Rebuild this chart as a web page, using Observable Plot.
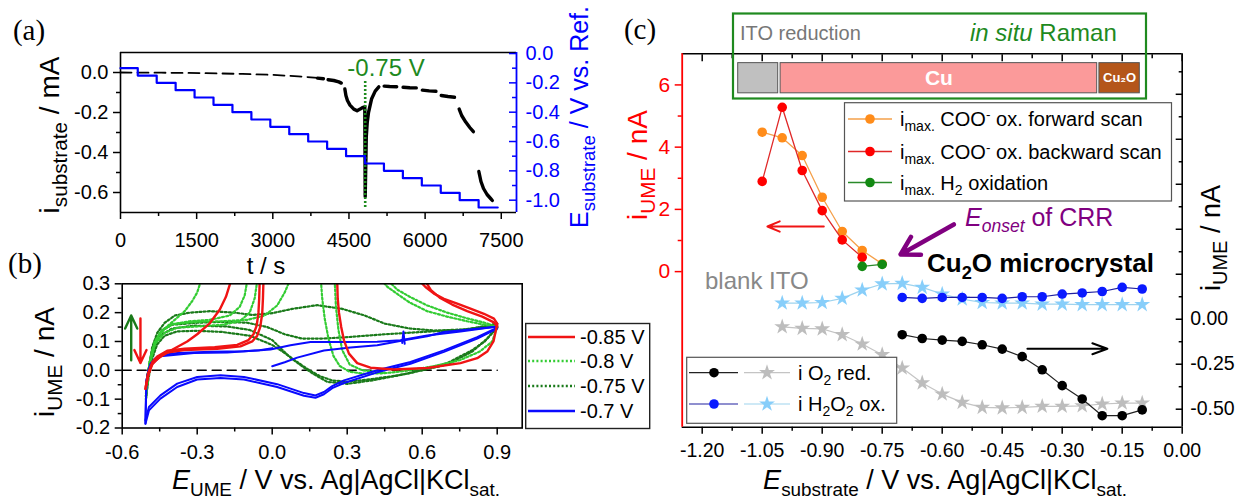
<!DOCTYPE html>
<html>
<head>
<meta charset="utf-8">
<script src="https://cdn.jsdelivr.net/npm/d3@7"></script>
<script src="https://cdn.jsdelivr.net/npm/@observablehq/plot@0.6"></script>
<style>
html,body{margin:0;padding:0;background:#fff;}
#fig{position:relative;width:1238px;height:501px;overflow:hidden;background:#fff;font-family:"Liberation Sans",Arial,sans-serif;color:#000;}
.lbl{position:absolute;white-space:nowrap;line-height:1;}
.lbl sub{font-size:70%;vertical-align:-0.38em;line-height:0;}
.lbl sup{font-size:68%;vertical-align:0.55em;line-height:0;}
.big sub{font-size:74%;}
#fig > svg{position:absolute;overflow:visible;}
</style>
</head>
<body>
<div id="fig"></div>
<script>
// ================= DATA =================
// ---- Panel (a): potential steps (blue) ----
const stepTimes = [0, 340, 713, 1086, 1459, 1832, 2205, 2578, 2951, 3324, 3697, 4070, 4443, 4816, 5189, 5562, 5935, 6308, 6681, 7054, 7430];
const stepPotentials = [-0.10, -0.15, -0.20, -0.25, -0.30, -0.35, -0.40, -0.45, -0.50, -0.55, -0.60, -0.65, -0.70, -0.75, -0.80, -0.85, -0.90, -0.95, -1.00, -1.05, -1.05];
// ---- Panel (a): substrate current (black) ----
const currentDashTime = [0, 800, 1600, 2400, 3000, 3500, 3880];
const currentDashValue = [0.000, -0.001, -0.003, -0.007, -0.012, -0.019, -0.027];
const currentBlocks = [
  [[3880, -0.028], [3997, -0.031]],
  [[4089, -0.036], [4200, -0.040], [4300, -0.047], [4349, -0.053]],
  [[4419, -0.082], [4440, -0.115], [4470, -0.140], [4520, -0.163], [4595, -0.183], [4660, -0.191], [4720, -0.183], [4771, -0.175]],
  [[4812, -0.170], [4820, -0.620], [4841, -0.322], [4860, -0.250], [4885, -0.200], [4947, -0.131], [5017, -0.093], [5088, -0.072]],
  [[5193, -0.068], [5300, -0.070], [5440, -0.071]],
  [[5566, -0.074], [5700, -0.076], [5826, -0.077]],
  [[5945, -0.088], [6080, -0.092], [6213, -0.094]],
  [[6318, -0.115], [6450, -0.120], [6579, -0.124]],
  [[6671, -0.183], [6720, -0.215], [6800, -0.248], [6880, -0.275], [6951, -0.296]],
  [[7058, -0.495], [7100, -0.545], [7150, -0.580], [7220, -0.610], [7290, -0.630], [7324, -0.640]]
];
const onsetTime = [4820];
const onsetRange = [-0.045, -0.68];
const timeTicks = [0, 1500, 3000, 4500, 6000, 7500];
const timeMinorTicks = [750, 2250, 3750, 5250, 6750];
const currentTicks = [0, -0.2, -0.4, -0.6];
const currentMinorTicks = [-0.1, -0.3, -0.5];
const potentialTicks = [0, -0.2, -0.4, -0.6, -0.8, -1.0];
const potentialMinorTicks = [-0.1, -0.3, -0.5, -0.7, -0.9];

// ---- Panel (b): CVs at UME, [E, i] pairs ----
const red085RevTopA = [[0.90,0.162],[0.887,0.179],[0.847,0.196],[0.793,0.214],[0.74,0.231],[0.687,0.248],[0.647,0.266],[0.613,0.289],[0.59,0.31]];
const red085RevTopB = [[0.90,0.152],[0.887,0.166],[0.84,0.186],[0.78,0.205],[0.72,0.228],[0.67,0.252],[0.635,0.278],[0.612,0.31]];
const red085RevDownA = [[-0.035,0.31],[-0.037,0.25],[-0.04,0.196],[-0.048,0.15],[-0.06,0.12],[-0.08,0.10],[-0.127,0.083],[-0.22,0.075],[-0.353,0.07],[-0.42,0.062],[-0.46,0.04],[-0.48,0.02],[-0.495,-0.015],[-0.507,-0.064]];
const red085RevDownB = [[-0.05,0.31],[-0.052,0.25],[-0.055,0.2],[-0.062,0.155],[-0.075,0.125],[-0.095,0.105],[-0.14,0.088],[-0.23,0.08],[-0.35,0.075],[-0.42,0.068],[-0.46,0.048],[-0.48,0.028],[-0.495,-0.01],[-0.505,-0.055]];
const red085FwdDiag = [[-0.507,-0.064],[-0.497,-0.012],[-0.48,0.023],[-0.447,0.048],[-0.393,0.075],[-0.34,0.10],[-0.30,0.125],[-0.25,0.163],[-0.21,0.21],[-0.185,0.255],[-0.165,0.31]];
const red085FwdReturn = [[0.26,0.31],[0.262,0.25],[0.267,0.2],[0.276,0.15],[0.287,0.104],[0.307,0.058],[0.34,0.025],[0.393,0.009],[0.487,0.003],[0.62,0.008],[0.753,0.025],[0.82,0.042],[0.86,0.065],[0.885,0.1],[0.90,0.16]];

const lg080FwdA = [[-0.505,-0.09],[-0.495,0.0],[-0.48,0.06],[-0.46,0.11],[-0.43,0.145],[-0.39,0.175],[-0.35,0.205],[-0.32,0.24],[-0.30,0.27],[-0.285,0.31]];
const lg080FwdB = [[-0.505,-0.08],[-0.49,0.03],[-0.47,0.10],[-0.44,0.14],[-0.40,0.16],[-0.30,0.168],[-0.20,0.17],[-0.10,0.175],[-0.03,0.19],[0.02,0.225],[0.05,0.27],[0.07,0.31]];
const lg080RetA = [[-0.06,0.31],[-0.07,0.25],[-0.09,0.20],[-0.13,0.17],[-0.20,0.158],[-0.30,0.152],[-0.38,0.148],[-0.43,0.13],[-0.47,0.09],[-0.49,0.02],[-0.505,-0.09]];
const lg080RetB = [[-0.10,0.31],[-0.11,0.26],[-0.13,0.22],[-0.17,0.19],[-0.25,0.175],[-0.33,0.17],[-0.40,0.16],[-0.45,0.13],[-0.48,0.07],[-0.50,-0.02],[-0.505,-0.10]];
const lg080HighA = [[0.195,0.31],[0.20,0.25],[0.21,0.18],[0.225,0.11],[0.245,0.05],[0.27,0.015],[0.31,-0.005],[0.37,-0.012],[0.45,-0.01],[0.55,0.0],[0.65,0.015],[0.75,0.035],[0.83,0.065],[0.88,0.10],[0.90,0.15]];
const lg080HighB = [[0.25,0.31],[0.255,0.22],[0.265,0.14],[0.28,0.07],[0.31,0.02],[0.36,0.0],[0.45,-0.008]];
const lg080RevTopA = [[0.90,0.15],[0.85,0.165],[0.78,0.18],[0.70,0.20],[0.62,0.225],[0.55,0.255],[0.50,0.28],[0.465,0.31]];
const lg080RevTopB = [[0.90,0.148],[0.85,0.158],[0.78,0.17],[0.70,0.186],[0.62,0.205],[0.55,0.235],[0.50,0.265],[0.46,0.29],[0.44,0.31]];

const dg075FwdA = [[-0.505,-0.10],[-0.495,0.0],[-0.48,0.08],[-0.46,0.13],[-0.43,0.165],[-0.39,0.19],[-0.33,0.20],[-0.25,0.205],[-0.15,0.20],[-0.08,0.192],[0.0,0.198],[0.08,0.213],[0.18,0.226],[0.28,0.213],[0.37,0.19],[0.45,0.162],[0.55,0.145],[0.65,0.138],[0.78,0.142],[0.90,0.162]];
const dg075FwdB = [[-0.505,-0.09],[-0.49,0.03],[-0.47,0.10],[-0.44,0.14],[-0.40,0.158],[-0.30,0.165],[-0.20,0.168],[-0.10,0.165],[-0.02,0.15],[0.05,0.125],[0.12,0.11],[0.20,0.11],[0.30,0.115],[0.45,0.125],[0.60,0.133],[0.75,0.14],[0.90,0.155]];
const dg075RevA = [[0.90,0.15],[0.86,0.11],[0.80,0.065],[0.70,0.02],[0.60,0.0],[0.50,-0.018],[0.40,-0.03],[0.30,-0.04],[0.24,-0.035],[0.19,-0.02],[0.14,0.005],[0.09,0.035],[0.05,0.06],[0.0,0.088],[-0.09,0.12],[-0.20,0.133],[-0.30,0.137],[-0.38,0.135],[-0.43,0.12],[-0.46,0.09],[-0.48,0.04],[-0.495,-0.03],[-0.505,-0.10]];
const dg075RevB = [[0.90,0.148],[0.85,0.10],[0.80,0.07],[0.70,0.025],[0.55,-0.01],[0.40,-0.035],[0.30,-0.047],[0.22,-0.04],[0.16,-0.01],[0.11,0.02],[0.07,0.046],[0.0,0.105],[-0.09,0.14],[-0.18,0.152],[-0.31,0.155],[-0.40,0.145],[-0.45,0.12],[-0.48,0.06],[-0.50,-0.02],[-0.505,-0.09]];

const blue070Start = [[0.0,0.014],[0.05,0.028],[0.10,0.044],[0.207,0.069],[0.313,0.079],[0.42,0.087],[0.527,0.104],[0.62,0.118],[0.687,0.133],[0.80,0.142],[0.887,0.15]];
const blue070FwdB = [[-0.507,-0.179],[-0.505,-0.10],[-0.503,-0.035],[-0.495,0.0],[-0.487,0.023],[-0.467,0.042],[-0.447,0.052],[-0.38,0.06],[-0.247,0.064],[-0.113,0.066],[-0.007,0.072],[0.073,0.087],[0.153,0.098],[0.287,0.098],[0.42,0.099],[0.513,0.104],[0.62,0.121],[0.753,0.135],[0.90,0.152]];
const blue070FwdC = [[-0.507,-0.185],[-0.505,-0.10],[-0.503,-0.035],[-0.495,0.0],[-0.487,0.017],[-0.447,0.049],[-0.313,0.06],[-0.18,0.062],[-0.05,0.07],[0.0,0.077]];
const blue070RevA = [[0.90,0.148],[0.82,0.115],[0.687,0.069],[0.553,0.029],[0.42,0.0],[0.287,-0.035],[0.24,-0.055],[0.207,-0.075],[0.173,-0.087],[0.127,-0.079],[0.02,-0.048],[-0.113,-0.023],[-0.207,-0.017],[-0.30,-0.023],[-0.38,-0.046],[-0.447,-0.087],[-0.493,-0.127],[-0.507,-0.173]];
const blue070RevB = [[0.90,0.145],[0.82,0.11],[0.687,0.064],[0.553,0.023],[0.42,-0.007],[0.287,-0.044],[0.24,-0.062],[0.207,-0.083],[0.173,-0.095],[0.127,-0.088],[0.02,-0.058],[-0.113,-0.032],[-0.207,-0.027],[-0.30,-0.032],[-0.38,-0.058],[-0.447,-0.098],[-0.493,-0.139],[-0.507,-0.185]];
const blue070Spike = [[0.52,0.095],[0.525,0.135],[0.53,0.092]];

const cvLabels = ["-0.85 V", "-0.8 V", "-0.75 V", "-0.7 V"];
const zeroLine = [[-0.6, 0], [0.9, 0]];
const scanArrows = [ // [E, i start, i end]
  [-0.564, 0.035, 0.19],
  [-0.527, 0.18, 0.025]
];
const umeTicks = [-0.6, -0.3, 0, 0.3, 0.6, 0.9];
const umeMinorTicks = [-0.45, -0.15, 0.15, 0.45, 0.75];
const iUmeTicks = [0.3, 0.2, 0.1, 0, -0.1, -0.2];
const iUmeMinorTicks = [0.25, 0.15, 0.05, -0.05, -0.15];

// ---- Panel (c) ----
const eCOO = [-1.05, -1.00, -0.95, -0.90, -0.85, -0.80, -0.75];
const iCOOForward = [4.48, 4.30, 3.73, 2.39, 1.29, 0.68, 0.25];
const eCOOBack = [-1.05, -1.00, -0.95, -0.90, -0.85, -0.80];
const iCOOBackward = [2.90, 5.28, 3.25, 1.96, 1.02, 0.46];
const eH2 = [-0.80, -0.75];
const iH2 = [0.17, 0.23];
const eBlank = [-1.00, -0.95, -0.90, -0.85, -0.80, -0.75, -0.70, -0.65, -0.60, -0.55, -0.50, -0.45, -0.40, -0.35, -0.30, -0.25, -0.20, -0.15, -0.10];
const iO2Blank = [-0.042, -0.051, -0.054, -0.086, -0.138, -0.197, -0.271, -0.354, -0.416, -0.462, -0.490, -0.493, -0.490, -0.484, -0.484, -0.481, -0.471, -0.466, -0.466];
const iH2O2Blank = [0.090, 0.090, 0.093, 0.116, 0.162, 0.196, 0.199, 0.177, 0.140, 0.112, 0.093, 0.090, 0.090, 0.084, 0.084, 0.081, 0.081, 0.081, 0.081];
const eCu2O = [-0.70, -0.65, -0.60, -0.55, -0.50, -0.45, -0.40, -0.35, -0.30, -0.25, -0.20, -0.15, -0.10];
const iO2Cu2O = [-0.086, -0.107, -0.116, -0.123, -0.142, -0.166, -0.208, -0.281, -0.369, -0.443, -0.536, -0.536, -0.504];
const iH2O2Cu2O = [0.121, 0.116, 0.121, 0.121, 0.121, 0.116, 0.125, 0.125, 0.140, 0.146, 0.154, 0.177, 0.168];
const ramanStart = [-1.11, -1.004, -0.207];
const ramanEnd = [-1.01, -0.2125, -0.106];
const ramanPhase = ["", "Cu", "Cu₂O"];
const subTicks = [-1.2, -1.05, -0.9, -0.75, -0.6, -0.45, -0.3, -0.15, 0];
const subMinorTicks = [-1.125, -0.975, -0.825, -0.675, -0.525, -0.375, -0.225, -0.075];
const leftTicks = [0, 2, 4, 6];
const leftMinorTicks = [1, 3, 5];
const rightTicks = [-0.5, -0.25, 0, 0.25, 0.5, 0.75, 1.0, 1.25];
const rightMinorTicks = [-0.375, -0.125, 0.125, 0.375, 0.625, 0.875, 1.125, 1.375];
const rightLabelTicks = [-0.5, -0.25, 0];

// ================= DRAWING =================
const FONT = '"Liberation Sans", Arial, Helvetica, sans-serif';
const SERIF = '"Liberation Serif", "Times New Roman", serif';
const fig = document.getElementById("fig");
const ST = {background: "transparent", overflow: "visible", fontFamily: FONT, fontSize: "20px", color: "#000"};
const none = () => "";
const f1 = d => d.toFixed(1);
const f2 = d => d.toFixed(2);

function addPlot(svg, left, top) {
  svg.style.position = "absolute";
  svg.style.left = left + "px";
  svg.style.top = top + "px";
  svg.style.maxWidth = "none";
  fig.appendChild(svg);
}
function label(htmlStr, x, y, css = {}, mode = "center") {
  const d = document.createElement("div");
  d.className = "lbl";
  d.innerHTML = htmlStr;
  d.style.left = x + "px";
  d.style.top = y + "px";
  d.style.transform = `translate(${mode === "center" ? "-50%" : "0"},-50%)`;
  Object.assign(d.style, css);
  fig.appendChild(d);
  return d;
}
function rotLabel(htmlStr, cx, cy, css = {}) {
  const d = document.createElement("div");
  d.className = "lbl big";
  d.innerHTML = htmlStr;
  d.style.left = cx + "px";
  d.style.top = cy + "px";
  d.style.transform = "translate(-50%,-50%) rotate(-90deg)";
  Object.assign(d.style, css);
  fig.appendChild(d);
  return d;
}

// ---------- Panel (a) ----------
const dashRows = currentDashTime.map((t, k) => ({t, i: currentDashValue[k]}));
const blockRows = currentBlocks.flatMap((seg, s) => seg.map(([t, i]) => ({t, i, s})));
const stepRows = stepTimes.map((t, k) => ({t, e: stepPotentials[k]}));
const onsetRows = onsetTime.map(t => ({t, y1: onsetRange[0], y2: onsetRange[1]}));

const A = {width: 620, height: 262, marginLeft: 120, marginRight: 104, marginTop: 52, marginBottom: 50};
const pa1 = Plot.plot({
  ...A, style: ST,
  x: {domain: [0, 7800]}, y: {domain: [-0.7, 0.1]},
  marks: [
    Plot.axisX({ticks: timeTicks, tickSize: 7, tickPadding: 13, tickFormat: d => String(d), fontSize: 20, label: null, strokeWidth: 1.5}),
    Plot.axisX({ticks: timeMinorTicks, tickSize: 4, tickFormat: none, label: null, strokeWidth: 1.5}),
    Plot.axisY({ticks: currentTicks, tickSize: 7, tickPadding: 5, tickFormat: f1, fontSize: 20, label: null, strokeWidth: 1.5}),
    Plot.axisY({ticks: currentMinorTicks, tickSize: 4, tickFormat: none, label: null, strokeWidth: 1.5}),
    Plot.ruleX([0], {strokeWidth: 1.6}),
    Plot.ruleY([0.1], {strokeWidth: 1.6}),
    Plot.ruleY([-0.7], {strokeWidth: 1.6}),
    Plot.line(dashRows, {x: "t", y: "i", stroke: "black", strokeWidth: 1.8, strokeDasharray: "11,6"}),
    Plot.line(blockRows, {x: "t", y: "i", z: "s", stroke: "black", strokeWidth: 3.4}),
    Plot.ruleX(onsetRows, {x: "t", y1: "y1", y2: "y2", stroke: "#1e8a1e", strokeWidth: 2.6, strokeDasharray: "2,2"})
  ]
});
addPlot(pa1, 0, 0);

const pa2 = Plot.plot({
  ...A, style: ST,
  x: {domain: [0, 7800], axis: null}, y: {domain: [-1.084, 0.007]},
  marks: [
    Plot.axisY({anchor: "right", ticks: potentialTicks, tickSize: 8, dx: -8, tickFormat: none, label: null, stroke: "blue", color: "blue", strokeWidth: 1.5}),
    Plot.axisY({anchor: "right", ticks: potentialMinorTicks, tickSize: 5, dx: -5, tickFormat: none, label: null, stroke: "blue", color: "blue", strokeWidth: 1.5}),
    Plot.axisY({anchor: "right", ticks: potentialTicks, tickSize: 0, tickPadding: 9, tickFormat: f1, fontSize: 20, label: null, fill: "blue", color: "blue"}),
    Plot.ruleX([7800], {stroke: "blue", strokeWidth: 1.8}),
    Plot.line(stepRows, {x: "t", y: "e", curve: "step-after", stroke: "#0000ff", strokeWidth: 2.2})
  ]
});
addPlot(pa2, 0, 0);

// ---------- Panel (b) ----------
const cvStyle = [
  {stroke: "#1a7a1a", width: 2.2, dash: "2,2.2", pieces: [dg075FwdA, dg075FwdB, dg075RevA, dg075RevB]},
  {stroke: "#33cc33", width: 2.2, dash: "2,2.2", pieces: [lg080FwdA, lg080FwdB, lg080RetA, lg080RetB, lg080HighA, lg080HighB, lg080RevTopA, lg080RevTopB]},
  {stroke: "#0a0aff", width: 2, dash: null, pieces: [blue070Start, blue070FwdB, blue070FwdC, blue070RevA, blue070RevB, blue070Spike]},
  {stroke: "#f01414", width: 2.4, dash: null, pieces: [red085RevTopA, red085RevTopB, red085RevDownA, red085RevDownB, red085FwdDiag, red085FwdReturn]}
];
const cvMarks = cvStyle.map(s => {
  const rows = s.pieces.flatMap((p, k) => p.map(([E, i]) => ({E, i, k})));
  const opts = {x: "E", y: "i", z: "k", stroke: s.stroke, strokeWidth: s.width, clip: true};
  if (s.dash) opts.strokeDasharray = s.dash;
  return Plot.line(rows, opts);
});
const arrowRows = scanArrows.map(([E, a, b], k) => ({E, a, b, c: k === 0 ? "#1a7a1a" : "#f01414"}));
const pb = Plot.plot({
  width: 620, height: 251, marginLeft: 121.7, marginRight: 98.3, marginTop: 33.3, marginBottom: 73.5,
  style: ST, color: {type: "identity"},
  x: {domain: [-0.6, 1.0]}, y: {domain: [-0.2, 0.3]},
  marks: [
    Plot.axisX({ticks: umeTicks, tickSize: 7, tickPadding: 10, tickFormat: f1, fontSize: 20, label: null, strokeWidth: 1.5}),
    Plot.axisX({ticks: umeMinorTicks, tickSize: 4, tickFormat: none, label: null, strokeWidth: 1.5}),
    Plot.axisY({ticks: iUmeTicks, tickSize: 7, tickPadding: 5, tickFormat: f1, fontSize: 20, label: null, strokeWidth: 1.5}),
    Plot.axisY({ticks: iUmeMinorTicks, tickSize: 4, tickFormat: none, label: null, strokeWidth: 1.5}),
    Plot.line(zeroLine, {x: d => d[0], y: d => d[1], stroke: "black", strokeWidth: 1.6, strokeDasharray: "9,6"}),
    ...cvMarks,
    Plot.arrow(arrowRows, {x1: "E", x2: "E", y1: "a", y2: "b", stroke: "c", strokeWidth: 2.4, headLength: 9, headAngle: 50}),
    Plot.frame({stroke: "black", strokeWidth: 1.6})
  ]
});
addPlot(pb, 0, 250);

// ---------- Panel (c) ----------
const C = {width: 618, height: 501, marginLeft: 61.7, marginRight: 56.3, marginTop: 53.3, marginBottom: 74.3};
const fwdRows = eCOO.map((x, k) => ({x, y: iCOOForward[k]}));
const backRows = eCOOBack.map((x, k) => ({x, y: iCOOBackward[k]}));
const h2Rows = eH2.map((x, k) => ({x, y: iH2[k]}));
const bandRows = ramanStart.map((x1, k) => ({x1, x2: ramanEnd[k], xm: (x1 + ramanEnd[k]) / 2, phase: ramanPhase[k], fill: ["#c0c0c0", "#fb9a9a", "#b4561a"][k]}));
const pc1 = Plot.plot({
  ...C, style: ST, color: {type: "identity"},
  x: {domain: [-1.25, 0]}, y: {domain: [-5, 7]},
  marks: [
    Plot.axisX({ticks: subTicks, tickSize: 7, tickPadding: 9, tickFormat: f2, fontSize: 19.5, label: null, strokeWidth: 1.5}),
    Plot.axisX({ticks: subMinorTicks, tickSize: 4, tickFormat: none, label: null, strokeWidth: 1.5}),
    Plot.axisX({anchor: "top", ticks: subTicks, tickSize: 7, dy: 7, tickFormat: none, label: null, strokeWidth: 1.5}),
    Plot.axisX({anchor: "top", ticks: subMinorTicks, tickSize: 4, dy: 4, tickFormat: none, label: null, strokeWidth: 1.5}),
    Plot.axisY({ticks: leftTicks, tickSize: 7, tickPadding: 5, tickFormat: d => String(d), fontSize: 21, label: null, stroke: "#f00", fill: "#f00", color: "#f00", strokeWidth: 1.5}),
    Plot.axisY({ticks: leftMinorTicks, tickSize: 4, tickFormat: none, label: null, stroke: "#f00", color: "#f00", strokeWidth: 1.5}),
    Plot.ruleY([7], {strokeWidth: 1.6}),
    Plot.ruleY([-5], {strokeWidth: 1.6}),
    Plot.ruleX([-1.25], {stroke: "#f00", strokeWidth: 1.8}),
    Plot.rect(bandRows, {x1: "x1", x2: "x2", y1: 5.73, y2: 6.70, fill: "fill", stroke: "#555", strokeWidth: 1}),
    Plot.text(bandRows, {x: "xm", y: 6.215, text: "phase", fill: "white", fontWeight: "bold", fontSize: d => d.phase === "Cu" ? 21 : 13}),
    Plot.line(fwdRows, {x: "x", y: "y", stroke: "#f5a04a", strokeWidth: 1.3}),
    Plot.dot(fwdRows, {x: "x", y: "y", fill: "#ff8c1a", r: 4.8}),
    Plot.line(backRows, {x: "x", y: "y", stroke: "#e02828", strokeWidth: 1.3}),
    Plot.dot(backRows, {x: "x", y: "y", fill: "#ff0000", r: 4.8}),
    Plot.line(h2Rows, {x: "x", y: "y", stroke: "#2a8a2a", strokeWidth: 1.3}),
    Plot.dot(h2Rows, {x: "x", y: "y", fill: "#138a13", r: 4.8}),
    Plot.arrow([{x1: -0.896, x2: -1.037, y: 1.45}], {x1: "x1", x2: "x2", y1: "y", y2: "y", stroke: "#f01414", strokeWidth: 2, headLength: 10, headAngle: 45}),
    Plot.arrow([{x1: -0.571, y1: 1.515, x2: -0.704, y2: 0.55}], {x1: "x1", y1: "y1", x2: "x2", y2: "y2", stroke: "#800080", strokeWidth: 4.5, headLength: 13, headAngle: 60})
  ]
});
addPlot(pc1, 620, 0);

const o2BlankRows = eBlank.map((x, k) => ({x, y: iO2Blank[k]}));
const h2o2BlankRows = eBlank.map((x, k) => ({x, y: iH2O2Blank[k]}));
const o2CuRows = eCu2O.map((x, k) => ({x, y: iO2Cu2O[k]}));
const h2o2CuRows = eCu2O.map((x, k) => ({x, y: iH2O2Cu2O[k]}));
const pc2 = Plot.plot({
  ...C, style: ST,
  x: {domain: [-1.25, 0], axis: null}, y: {domain: [-0.6, 1.475]},
  marks: [
    Plot.axisY({anchor: "right", ticks: rightTicks, tickSize: 7, dx: -7, tickFormat: none, label: null, strokeWidth: 1.5}),
    Plot.axisY({anchor: "right", ticks: rightMinorTicks, tickSize: 4, dx: -4, tickFormat: none, label: null, strokeWidth: 1.5}),
    Plot.axisY({anchor: "right", ticks: rightLabelTicks, tickSize: 0, tickPadding: 8, tickFormat: f2, fontSize: 19.5, label: null}),
    Plot.ruleX([0], {strokeWidth: 1.6}),
    Plot.line(o2BlankRows, {x: "x", y: "y", stroke: "#c4c4c4", strokeWidth: 1.2}),
    Plot.dot(o2BlankRows, {x: "x", y: "y", symbol: "star", fill: "#bdbdbd", r: 5}),
    Plot.line(h2o2BlankRows, {x: "x", y: "y", stroke: "#9ed3ee", strokeWidth: 1.2}),
    Plot.dot(h2o2BlankRows, {x: "x", y: "y", symbol: "star", fill: "#87cefa", r: 5}),
    Plot.line(o2CuRows, {x: "x", y: "y", stroke: "#222", strokeWidth: 1.2}),
    Plot.dot(o2CuRows, {x: "x", y: "y", fill: "#000", r: 4.8}),
    Plot.line(h2o2CuRows, {x: "x", y: "y", stroke: "#2020a0", strokeWidth: 1.2}),
    Plot.dot(h2o2CuRows, {x: "x", y: "y", fill: "#0a1aff", r: 4.8}),
    Plot.arrow([{x1: -0.387, x2: -0.187, y: -0.164}], {x1: "x1", x2: "x2", y1: "y", y2: "y", stroke: "#000", strokeWidth: 2, headLength: 12, headAngle: 40})
  ]
});
addPlot(pc2, 620, 0);

// ---------- Overlay: legend boxes, swatches, annotation box ----------
const ov = d3.create("svg").attr("width", 1238).attr("height", 501)
  .style("position", "absolute").style("left", "0px").style("top", "0px");
ov.append("rect").attr("x", 733).attr("y", 13.5).attr("width", 413).attr("height", 85)
  .attr("fill", "none").attr("stroke", "#1f8a1f").attr("stroke-width", 2.2);
ov.append("rect").attr("x", 525.7).attr("y", 323.5).attr("width", 124).attr("height", 105)
  .attr("fill", "white").attr("stroke", "#222").attr("stroke-width", 1.4);
const bRows = [337, 361, 386, 411];
const bSty = [["#f01414", null, 2.6], ["#33cc33", "2,2.2", 2.4], ["#1a7a1a", "2,2.2", 2.4], ["#0a0aff", null, 2.6]];
bRows.forEach((y, k) => {
  const l = ov.append("line").attr("x1", 528).attr("x2", 575).attr("y1", y).attr("y2", y)
    .attr("stroke", bSty[k][0]).attr("stroke-width", bSty[k][2]);
  if (bSty[k][1]) l.attr("stroke-dasharray", bSty[k][1]);
});
ov.append("rect").attr("x", 844.5).attr("y", 102.7).attr("width", 327).attr("height", 98.3)
  .attr("fill", "white").attr("stroke", "#555").attr("stroke-width", 1.2);
const cRows = [119, 151.5, 182.5];
const cSty = [["#f5a04a", "#ff8c1a"], ["#e02828", "#ff0000"], ["#2a8a2a", "#138a13"]];
cRows.forEach((y, k) => {
  ov.append("line").attr("x1", 848).attr("x2", 892).attr("y1", y).attr("y2", y).attr("stroke", cSty[k][0]).attr("stroke-width", 1.3);
  ov.append("circle").attr("cx", 870).attr("cy", y).attr("r", 4.8).attr("fill", cSty[k][1]);
});
ov.append("rect").attr("x", 686.7).attr("y", 357.3).attr("width", 210).attr("height", 66)
  .attr("fill", "white").attr("stroke", "#555").attr("stroke-width", 1.2);
const star = d3.symbol(d3.symbolStar, Math.PI * 25)();
[[372.7, "#222", "#000", "#c4c4c4", "#bdbdbd"], [404, "#2020a0", "#0a1aff", "#9ed3ee", "#87cefa"]].forEach(([y, lc, dc, sl, sc]) => {
  ov.append("line").attr("x1", 689).attr("x2", 738).attr("y1", y).attr("y2", y).attr("stroke", lc).attr("stroke-width", 1.2);
  ov.append("circle").attr("cx", 714).attr("cy", y).attr("r", 4.8).attr("fill", dc);
  ov.append("line").attr("x1", 744).attr("x2", 790).attr("y1", y).attr("y2", y).attr("stroke", sl).attr("stroke-width", 1.2);
  ov.append("path").attr("d", star).attr("transform", `translate(767,${y})`).attr("fill", sc);
});
fig.appendChild(ov.node());

// ---------- Text labels ----------
label("(a)", 29, 30, {fontFamily: SERIF, fontSize: "29px"});
label("(b)", 25, 263, {fontFamily: SERIF, fontSize: "29px"});
label("(c)", 640, 29, {fontFamily: SERIF, fontSize: "29px"});

rotLabel("i<sub>substrate</sub> / mA", 50, 135, {fontSize: "28px"});
rotLabel("E<sub>substrate</sub> / V vs. Ref.", 579, 117, {fontSize: "25px", color: "#0000ff"});
label("t / s", 266, 266, {fontSize: "24px"});
label("-0.75 V", 386, 68, {fontSize: "24px", color: "#1e8a1e"});

rotLabel("i<sub>UME</sub> / nA", 45, 362, {fontSize: "28px"});
label("<i>E</i><sub>UME</sub> / V vs. Ag|AgCl|KCl<sub>sat.</sub>", 336, 480, {fontSize: "27px"});
cvLabels.forEach((t, k) => label(t, 580, bRows[k], {fontSize: "20px"}, "left"));

rotLabel("i<sub>UME</sub> / nA", 638, 165, {fontSize: "28px", color: "#f00"});
rotLabel("i<sub>UME</sub> / nA", 1211, 238, {fontSize: "27px"});
label("<i>E</i><sub>substrate</sub> / V vs. Ag|AgCl|KCl<sub>sat.</sub>", 945, 480, {fontSize: "27px"});
label("ITO reduction", 740, 33, {fontSize: "20px", color: "#777"}, "left");
label("<i>in situ</i> Raman", 970, 33, {fontSize: "24px", color: "#1e8a1e"}, "left");
label("i<sub>max.</sub> COO<sup>-</sup> ox. forward scan", 900, cRows[0], {fontSize: "20px"}, "left");
label("i<sub>max.</sub> COO<sup>-</sup> ox. backward scan", 900, cRows[1], {fontSize: "20px"}, "left");
label("i<sub>max.</sub> H<sub>2</sub> oxidation", 900, cRows[2], {fontSize: "20px"}, "left");
label("<i>E<sub>onset</sub></i> of CRR", 965, 217, {fontSize: "25px", color: "#800080"}, "left");
label("blank ITO", 705, 281, {fontSize: "24px", color: "#888"}, "left");
label("Cu<sub>2</sub>O microcrystal", 927, 263, {fontSize: "26px", fontWeight: "bold"}, "left");
label("i O<sub>2</sub> red.", 798, 372.7, {fontSize: "20px"}, "left");
label("i H<sub>2</sub>O<sub>2</sub> ox.", 798, 404, {fontSize: "20px"}, "left");
</script>
</body>
</html>
